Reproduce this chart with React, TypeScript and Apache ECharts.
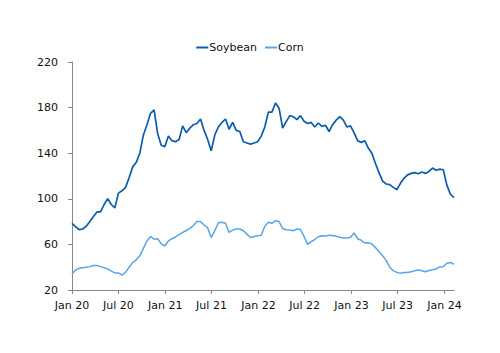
import React, { useEffect, useRef } from "react";
import * as echarts from "echarts";

const startDate = Date.UTC(2020, 0, 1);
const stepDays = 14;

const soybean = [
  78.5, 75.5, 73, 73.5, 76, 80, 84.5, 88.5, 88.5, 95, 100, 95, 92, 105, 107, 110, 118.5, 128, 132, 140,
  156, 165, 175, 178, 157, 147, 145.7, 155, 151, 150, 152, 164, 158, 162, 165, 166, 170, 160, 152, 142,
  156, 163, 167, 170, 161, 167, 160, 159, 150, 149, 148, 149, 150, 155, 163, 176, 176, 184, 179.5, 162,
  167.7, 173, 172, 169.5, 173, 168, 166, 167, 163, 166.5, 163.5, 164.5, 159, 165, 169, 172, 169, 163, 164, 158,
  151, 149.5, 151, 144.5, 140, 131, 123, 115.5, 113, 112.5, 110, 108, 113.6, 118, 121, 122.3, 123, 122, 123.5, 122.3,
  124, 127, 125, 126, 125.5, 112, 104, 101,
];

const corn = [
  34, 37.5, 39, 39.5, 40, 40.5, 41.5, 41.5, 40.5, 39.5, 38.5, 36.5, 35, 35, 33, 35.5, 40, 44, 46.5, 50,
  56.5, 63, 67, 64.5, 65, 60.5, 58.6, 63, 65, 66.5, 68.5, 70.5, 72.2, 74, 76.5, 80, 80, 77, 74.5, 66,
  72, 79, 79.5, 78.5, 70.5, 72.5, 73.5, 73.5, 72, 69, 66, 67, 67.6, 68, 76, 79.5, 78.5, 80.8, 80, 74,
  72.8, 72.7, 72, 73.5, 73, 67, 60, 62.5, 64.3, 66.7, 67.5, 67.4, 68, 67.8, 67.2, 66.3, 65.6, 65.6, 66.2, 70,
  65, 63.6, 61.3, 61.4, 60.3, 57.2, 53.5, 50, 46, 40, 36.8, 35.5, 34.6, 35.3, 35.3, 36, 36.8, 37.5, 36.8, 36,
  37.1, 37.7, 38.4, 40.2, 40.5, 43.5, 44.2, 42.5,
];

const dates = soybean.map((_, i) => startDate + i * stepDays * 86400000);

const tickDates = [
  Date.UTC(2020, 0, 1), Date.UTC(2020, 6, 1), Date.UTC(2021, 0, 1), Date.UTC(2021, 6, 1),
  Date.UTC(2022, 0, 1), Date.UTC(2022, 6, 1), Date.UTC(2023, 0, 1), Date.UTC(2023, 6, 1),
  Date.UTC(2024, 0, 1),
];
const tickLabels = ["Jan 20", "Jul 20", "Jan 21", "Jul 21", "Jan 22", "Jul 22", "Jan 23", "Jul 23", "Jan 24"];

const yMin = 20;
const yMax = 220;
const yInterval = 40;

const FONT = "DejaVu Sans";

export default function App() {
  const ref = useRef<HTMLDivElement>(null);
  useEffect(() => {
    if (!ref.current) return;
    const chart = echarts.init(ref.current, null, { renderer: "svg" });
    chart.setOption({
      animation: false,
      backgroundColor: "#ffffff",
      legend: {
        top: 37,
        left: "center",
        icon: "rect",
        itemWidth: 12,
        itemHeight: 2,
        itemGap: 8,
        textStyle: { fontFamily: FONT, fontSize: 11, color: "#111", padding: [0, 0, 0, -4] },
        data: ["Soybean", "Corn"],
      },
      grid: { left: 72, right: 46, top: 62, bottom: 63, containLabel: false },
      xAxis: {
        type: "value",
        min: startDate,
        max: dates[dates.length - 1],
        axisLine: { lineStyle: { color: "#888", width: 1 } },
        axisTick: { show: true, length: 4, lineStyle: { color: "#888" }, customValues: tickDates },
        axisLabel: {
          customValues: tickDates,
          margin: 10,
          fontFamily: FONT,
          fontSize: 11,
          color: "#111",
          formatter: (v: number) => {
            const i = tickDates.findIndex((t) => Math.abs(t - v) < 86400000 * 3);
            return i >= 0 ? tickLabels[i] : "";
          },
        },
        splitLine: { show: false },
      },
      yAxis: {
        type: "value",
        min: yMin,
        max: yMax,
        interval: yInterval,
        axisLine: { show: true, lineStyle: { color: "#888", width: 1 } },
        axisTick: { show: true, length: 4, lineStyle: { color: "#888" } },
        axisLabel: { margin: 14, fontFamily: FONT, fontSize: 11, color: "#111" },
        splitLine: { show: false },
      },
      series: [
        {
          name: "Soybean",
          type: "line",
          data: dates.map((d, i) => [d, soybean[i]]),
          showSymbol: false,
          symbol: "none",
          lineStyle: { color: "#0b5cad", width: 1.7 },
          itemStyle: { color: "#0b5cad" },
        },
        {
          name: "Corn",
          type: "line",
          data: dates.map((d, i) => [d, corn[i]]),
          showSymbol: false,
          symbol: "none",
          lineStyle: { color: "#5aa5e6", width: 1.5 },
          itemStyle: { color: "#5aa5e6" },
        },
      ],
    });
    return () => chart.dispose();
  }, []);
  return <div ref={ref} style={{ width: 500, height: 353, position: "absolute", left: 0, top: 0 }} />;
}
